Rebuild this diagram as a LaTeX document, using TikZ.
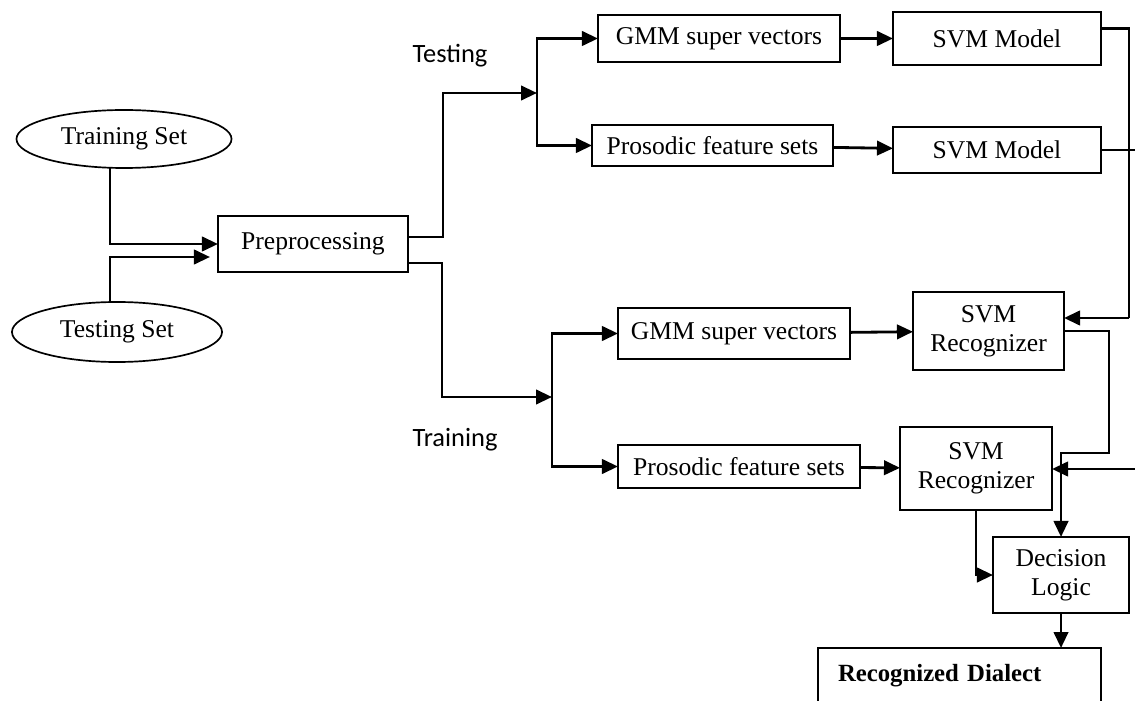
\documentclass[tikz,border=0pt]{standalone}
\usepackage{fontspec}
\setmainfont{Liberation Serif}
\newfontfamily\lblfont{Carlito}
\usetikzlibrary{arrows.meta,shapes.geometric}

\begin{document}
\begin{tikzpicture}[x=0.025cm,y=-0.025cm,
	box/.style={draw,line width=1.2pt,inner sep=0,outer sep=0,align=center,font=\fontsize{18.2}{20.5}\selectfont},
	oval/.style={draw,ellipse,line width=1.2pt,inner sep=0,outer sep=0,font=\fontsize{18.2}{20.5}\selectfont},
	lbl/.style={font=\lblfont\fontsize{18.8}{20}\selectfont},
	arr/.style={line width=2pt,-{Triangle[length=0.4cm,width=0.36cm]}},
	ln/.style={line width=2pt}]
	\useasboundingbox (0,0) rectangle (1135,701);
	\node[oval,minimum width=5.375cm,minimum height=1.45cm] (train) at (124,139) {Training Set};
	\node[oval,minimum width=5.25cm,minimum height=1.5cm] (test) at (117,332) {Testing Set};
	\node[box,minimum width=4.75cm,minimum height=1.4cm] (pre) at (313,244) {Preprocessing};
	\node[box,minimum width=6.05cm,minimum height=1.175cm] (gmmA) at (719,38.5) {GMM super vectors};
	\node[box,minimum width=6.025cm,minimum height=1.025cm] (prosA) at (712.5,145.5) {Prosodic feature sets};
	\node[box,minimum width=5.2cm,minimum height=1.325cm] (svmA) at (997,38.5) {SVM Model};
	\node[box,minimum width=5.2cm,minimum height=1.15cm] (svmB) at (997,150) {SVM Model};
	\node[box,minimum width=5.8cm,minimum height=1.275cm] (gmmB) at (734,333.5) {GMM super vectors};
	\node[box,minimum width=6.05cm,minimum height=1.075cm] (prosB) at (739,466.5) {Prosodic feature sets};
	\node[box,minimum width=3.775cm,minimum height=1.95cm] (recA) at (988.5,331) {SVM\\Recognizer};
	\node[box,minimum width=3.8cm,minimum height=2.075cm] (recB) at (976,468.5) {SVM\\Recognizer};
	\node[box,minimum width=3.4cm,minimum height=1.9cm] (dec) at (1061,575) {Decision\\Logic};
	\node[box,anchor=north west,inner xsep=0.5cm,inner ysep=0.4cm,text width=6.075cm,align=left,text depth=1.5cm,font=\fontsize{17.6}{20}\selectfont\bfseries] (dial) at (818,648) {Recognized Dialect};
	\node[lbl] (testlbl) at (450,56) {Testing};
	\node[lbl] (trainlbl) at (455,440) {Training};
	% branch points and rails
	\coordinate (splitA) at (537,93);
	\coordinate (splitB) at (552,397);
	\coordinate (railA) at (1129,318);
	\coordinate (railB) at (1109,453);
	\coordinate (edgeB) at (1145,150);
	\coordinate (edgeC) at (1145,469);
	% inputs
	\draw[arr] ([xshift=-0.35cm]train.south) |- (pre.west);
	\draw[arr] ([xshift=-0.175cm]test.north) |- ([xshift=-0.2cm,yshift=-0.325cm]pre.west);
	% testing path
	\draw[arr] ([yshift=0.175cm]pre.east) -- ++(35,0) |- (splitA);
	\draw[arr] (splitA) |- (gmmA.west);
	\draw[arr] (splitA) |- (prosA.west);
	\draw[arr] (gmmA) -- (svmA);
	\draw[arr] (prosA) -- (svmB);
	% training path
	\draw[arr] ([yshift=-0.475cm]pre.east) -- ++(34,0) |- (splitB);
	\draw[arr] (splitB) |- (gmmB.west);
	\draw[arr] (splitB) |- (prosB.west);
	\draw[arr] (gmmB) -- (recA);
	\draw[arr] (prosB) -- (recB);
	% models to recognizers
	\draw[ln] ([yshift=0.25cm]svmA.east) -| (railA);
	\draw[arr] (railA) -- (railA -| recA.east);
	\draw[ln] (svmB.east) -- (edgeB);
	\draw[arr] (edgeC) -- (edgeC -| recB.east);
	% decision
	\draw[arr] (recA.east) -| (railB) -| (dec.north);
	\draw[arr] (recB.south) |- (dec.west);
	\draw[arr] (dec.south) -- (dec.south |- dial.north);
\end{tikzpicture}
\end{document}
